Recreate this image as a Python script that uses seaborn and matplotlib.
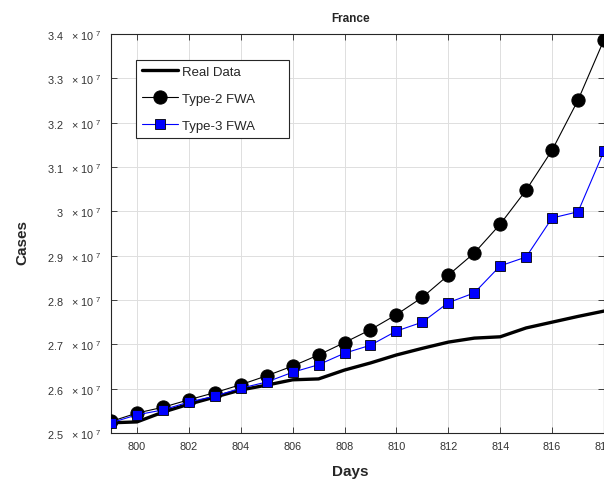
import numpy as np
import pandas as pd
import matplotlib
matplotlib.use("Agg")
import matplotlib.pyplot as plt
import seaborn as sns

# Daily cumulative COVID-19 cases in France (units of 1e7)
days = list(range(799, 819))
real_data = [2.523, 2.525, 2.547, 2.565, 2.581, 2.597, 2.608, 2.620, 2.622, 2.642,
             2.658, 2.676, 2.691, 2.705, 2.714, 2.717, 2.737, 2.750, 2.763, 2.775]
type2_fwa = [2.526, 2.545, 2.558, 2.575, 2.591, 2.609, 2.629, 2.651, 2.676, 2.704,
             2.733, 2.767, 2.806, 2.856, 2.906, 2.971, 3.048, 3.138, 3.251, 3.387]
type3_fwa = [2.523, 2.541, 2.552, 2.570, 2.583, 2.601, 2.615, 2.637, 2.654, 2.680,
             2.698, 2.730, 2.750, 2.794, 2.816, 2.877, 2.897, 2.985, 2.999, 3.136]
series_names = ["Real Data", "Type-2 FWA", "Type-3 FWA"]
x_ticks = list(range(800, 819, 2))
y_ticks = [2.5, 2.6, 2.7, 2.8, 2.9, 3.0, 3.1, 3.2, 3.3, 3.4]

df = pd.DataFrame({"Days": days,
                   series_names[0]: np.array(real_data) * 1e7,
                   series_names[1]: np.array(type2_fwa) * 1e7,
                   series_names[2]: np.array(type3_fwa) * 1e7})

sns.set_theme(style="whitegrid")
plt.rcParams["font.family"] = ["Liberation Sans", "DejaVu Sans"]
plt.rcParams["mathtext.fontset"] = "custom"
plt.rcParams["mathtext.rm"] = "Liberation Sans"
plt.rcParams["mathtext.it"] = "Liberation Sans:italic"

fig = plt.figure(figsize=(6.04, 4.81), dpi=100)
ax = fig.add_axes([111 / 604, 1 - 434 / 481, 1 - 111 / 604, (434 - 35) / 481])

sns.lineplot(data=df, x="Days", y=series_names[0], ax=ax, color="black",
             linewidth=2.4, label=series_names[0], zorder=3)
sns.lineplot(data=df, x="Days", y=series_names[1], ax=ax, color="black",
             linewidth=0.8, marker="o", markersize=9.5, markerfacecolor="black",
             markeredgecolor="black", label=series_names[1], zorder=4)
sns.lineplot(data=df, x="Days", y=series_names[2], ax=ax, color="blue",
             linewidth=0.8, marker="s", markersize=7, markerfacecolor="blue",
             markeredgecolor="black", markeredgewidth=0.6,
             label=series_names[2], zorder=5)

ax.set_xlim(799, 818)
ax.set_ylim(2.5e7, 3.4e7)
ax.set_xticks(x_ticks)
ax.set_xticklabels([str(t) for t in x_ticks])
ax.set_yticks([v * 1e7 for v in y_ticks])
ax.set_yticklabels([f"{v:g}   \u00d7 10 $^{{7}}$" for v in y_ticks])

ax.set_facecolor("white")
ax.grid(True, color="#dedede", linewidth=0.7)
for side in ["left", "bottom", "top", "right"]:
    ax.spines[side].set_visible(True)
    ax.spines[side].set_color("#262626")
    ax.spines[side].set_linewidth(0.8)
ax.tick_params(axis="both", direction="in", length=4, width=0.6, color="#262626",
               labelsize=7.8, labelcolor="#333333", top=True, right=True,
               bottom=True, left=True)
ax.tick_params(axis="y", pad=7)
ax.tick_params(axis="x", pad=6)

ax.set_xlabel("Days", fontsize=11, fontweight="bold", color="#262626")
ax.set_ylabel("Cases", fontsize=11, fontweight="bold", color="#262626")
ax.xaxis.set_label_coords(0.485, -0.078)
ax.yaxis.set_label_coords(-0.165, 0.48)
ax.set_title("France", fontsize=8.5, fontweight="bold", x=0.485, pad=9)

leg = ax.legend(loc="upper left", bbox_to_anchor=(0.0507, 0.4, 0.310, 0.535),
                mode="expand", borderaxespad=0,
                fontsize=9.5, frameon=True, fancybox=False, framealpha=1,
                edgecolor="#262626", handlelength=2.7, handletextpad=0.3,
                labelspacing=1.1, borderpad=0.45)
leg.get_frame().set_linewidth(0.8)

fig.savefig("out.png", dpi=100)
